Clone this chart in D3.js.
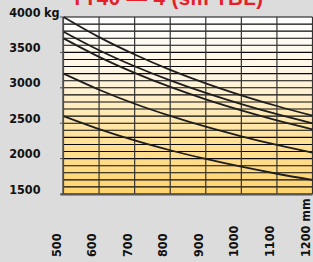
<!DOCTYPE html>
<html><head><meta charset="utf-8">
<script src="https://cdn.jsdelivr.net/npm/d3@7"></script>
<style>
html,body{margin:0;padding:0;background:#dcdcdd;}
svg{display:block;}
</style></head>
<body>
<script>
// ---- data ----
const title = "TT40 — 4 (sm TBL)";
const loadCentres = [500, 600, 700, 800, 900, 1000, 1100, 1200]; // mm
const xTickLabels = ["500", "600", "700", "800", "900", "1000", "1100", "1200 mm"];
const yTicks = [1500, 2000, 2500, 3000, 3500, 4000];
const yTickLabels = ["1500", "2000", "2500", "3000", "3500", "4000"];
const yUnit = "kg";
const capA = [4000, 3716, 3471, 3254, 3063, 2894, 2743, 2606];
const capB = [3792, 3531, 3304, 3104, 2927, 2769, 2627, 2499];
const capC = [3699, 3437, 3211, 3012, 2836, 2680, 2539, 2414];
const capD = [3200, 2973, 2775, 2603, 2450, 2315, 2193, 2084];
const capE = [2600, 2417, 2257, 2118, 1995, 1885, 1786, 1698];
const seriesList = [capA, capB, capC, capD, capE];
const gridStepKg = 100;

// ---- drawing ----
const W = 313, H = 262;
const svg = d3.select("body").append("svg").attr("width", W).attr("height", H);

const x = d3.scaleLinear().domain([500, 1200]).range([63.5, 312.5]);
const y = d3.scaleLinear().domain([1500, 4000]).range([194, 17]);

const defs = svg.append("defs");
const grad = defs.append("linearGradient").attr("id", "bg").attr("x1", 0).attr("y1", 0).attr("x2", 0).attr("y2", 1);
[[0, "#ffffff"], [0.35, "#fff5df"], [0.65, "#ffe4a0"], [1, "#ffd46e"]].forEach(([o, c]) =>
  grad.append("stop").attr("offset", o).attr("stop-color", c));

// title (cut off at top, as in the reference)
svg.append("text").attr("x", 71).attr("y", 5)
  .attr("font-family", "Liberation Sans, Arial, sans-serif").attr("font-weight", "bold")
  .attr("font-size", 20.5).attr("letter-spacing", 0.4).attr("fill", "#e5202b").text(title);

// plot background
svg.append("rect").attr("x", x(500)).attr("y", y(4000))
  .attr("width", x(1200) - x(500)).attr("height", y(1500) - y(4000)).attr("fill", "url(#bg)");

// horizontal grid
const gridKg = d3.range(1500, 4000 + 1, gridStepKg);
svg.append("g").selectAll("line").data(gridKg).join("line")
  .attr("x1", x(500)).attr("x2", x(1200)).attr("y1", d => y(d)).attr("y2", d => y(d))
  .attr("stroke", "#0a0a0a").attr("stroke-width", 1.1);

// vertical grid
svg.append("g").selectAll("line").data(loadCentres).join("line")
  .attr("x1", d => x(d)).attr("x2", d => x(d)).attr("y1", y(4000)).attr("y2", y(1500))
  .attr("stroke", "#333").attr("stroke-width", 1.2);

// axes lines
svg.append("line").attr("x1", 63).attr("x2", 63).attr("y1", y(4000)).attr("y2", y(1500))
  .attr("stroke", "#555").attr("stroke-width", 1.5);
svg.append("line").attr("x1", 60.5).attr("x2", x(1200)).attr("y1", y(1500) + 0.5).attr("y2", y(1500) + 0.5)
  .attr("stroke", "#555").attr("stroke-width", 2);
svg.append("g").selectAll("line").data(yTicks).join("line")
  .attr("x1", 60).attr("x2", 63).attr("y1", d => y(d)).attr("y2", d => y(d))
  .attr("stroke", "#555").attr("stroke-width", 1);

// curves
const line = d3.line().x((d, i) => x(loadCentres[i])).y(d => y(d)).curve(d3.curveMonotoneX);
svg.append("g").selectAll("path").data(seriesList).join("path")
  .attr("d", line).attr("fill", "none").attr("stroke", "#1e1e1e").attr("stroke-width", 1.8);

const font = "DejaVu Sans Condensed, DejaVu Sans, sans-serif";
// y labels
const yl = svg.append("g").attr("font-family", font).attr("font-weight", "bold")
  .attr("font-size", 12.5).attr("fill", "#111");
yTicks.forEach((t, i) => {
  yl.append("text").attr("x", 40.5).attr("y", y(t) - 0.5).attr("text-anchor", "end").text(yTickLabels[i]);
});
yl.append("text").attr("x", 44).attr("y", y(4000) - 0.5).text(yUnit);

// x labels
const xl = svg.append("g").attr("font-family", font).attr("font-weight", "bold")
  .attr("font-size", 12.5).attr("fill", "#111");
loadCentres.forEach((v, i) => {
  xl.append("text").attr("transform", `translate(${x(v) - 3},257) rotate(-90)`)
    .attr("text-anchor", "start").text(xTickLabels[i]);
});
</script>
</body></html>
